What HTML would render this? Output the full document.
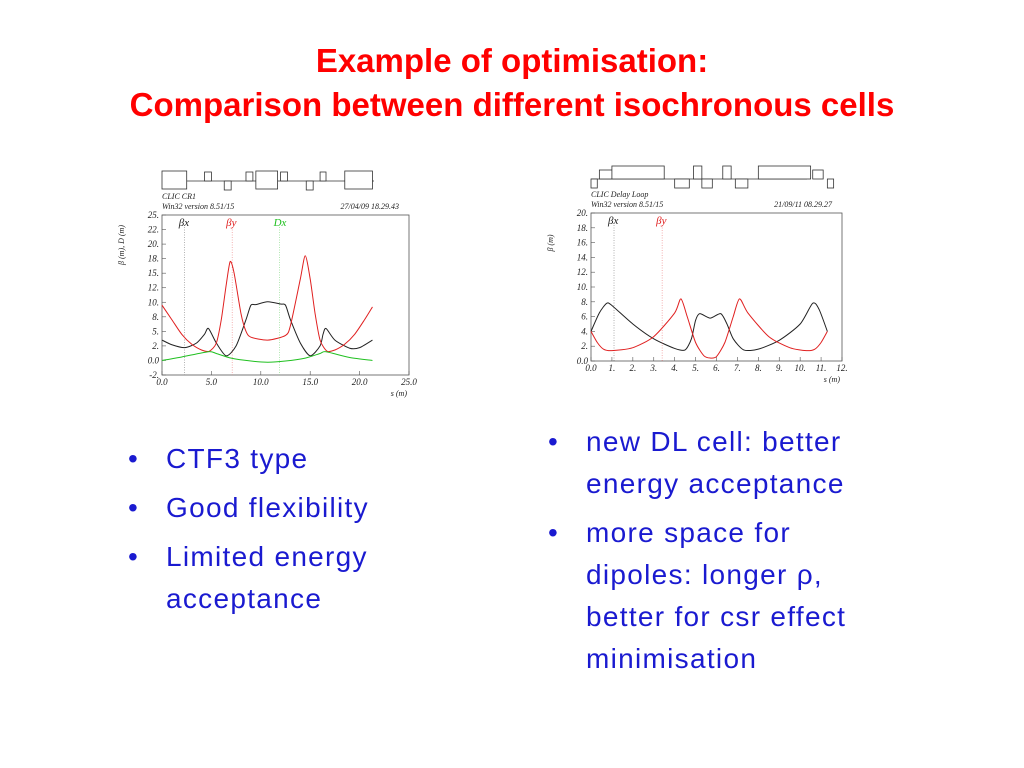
<!DOCTYPE html>
<html><head><meta charset="utf-8"><style>
body{margin:0;width:1024px;height:768px;background:#fff;overflow:hidden;position:relative;font-family:"Liberation Sans",sans-serif}
.t{position:absolute;left:0;width:1024px;text-align:center;color:#f00;font-weight:bold;font-size:33px}
.b{position:absolute;color:#1a1ad0;font-size:28px;letter-spacing:1.3px;line-height:42px}
.b span{position:absolute;left:-38px}
svg{position:absolute;left:0;top:0}
</style></head><body>
<div class="t" style="top:42px">Example of optimisation:</div>
<div class="t" style="top:86px">Comparison between different isochronous cells</div>

<div class="b" style="left:166px;top:438px">
<div style="position:relative"><span>•</span>CTF3 type</div>
<div style="position:relative;margin-top:7px"><span>•</span>Good flexibility</div>
<div style="position:relative;margin-top:7px"><span>•</span>Limited energy<br>acceptance</div>
</div>
<div class="b" style="left:586px;top:421px">
<div style="position:relative"><span>•</span>new DL cell: better<br>energy acceptance</div>
<div style="position:relative;margin-top:7px"><span>•</span>more space for<br>dipoles: longer ρ,<br>better for csr effect<br>minimisation</div>
</div>

<svg width="1024" height="768" font-family="Liberation Serif, serif" font-style="italic">
<g id="c1"></g>
<g id="c2"></g>
</svg>
<script>
// Chart 1 data (CLIC CR1)
const c1Ticks=[25,22.5,20,17.5,15,12.5,10,7.5,5,2.5,0,-2.5];
const c1TickLabels=["25.","22.","20.","18.","15.","12.","10.","8.","5.","2.","0.0","-2."];
const c1XTicks=[0,5,10,15,20,25];
const c1XLabels=["0.0","5.0","10.0","15.0","20.0","25.0"];
const c1BxS=[0,1,2.3,3.5,4.3,4.7,5.5,6.5,7.5,8.5,9,9.5,10.7,12,12.5,13,14,15,16,16.3,16.6,17.5,19,20,21.3];
const c1BxV=[3.5,2.7,2.2,3,4.5,5.5,3,0.8,2.5,7,9.5,9.6,10.1,9.7,9.5,7,3,0.8,2.5,4.5,5.5,3.5,2.1,2.2,3.5];
const c1ByS=[0,1,2,3,4,4.8,5.5,6,6.5,6.9,7.3,8,8.5,9,10.7,12.5,13,14,14.5,15,15.5,16,16.7,17.5,18.5,19.5,20.5,21.3];
const c1ByV=[9.5,7,4.5,2.8,1.8,1.6,3,7,13,17,15,8,5,4,3.5,4.3,6,14,18,14,8,3.5,1.6,1.8,2.8,4.5,7,9.2];
const c1DS=[0,2,4.7,5.5,7,9,10.7,12.5,14.5,16,16.6,19,21.3];
const c1DV=[0,0.6,1.5,1.2,0.4,-0.1,-0.3,-0.1,0.4,1.2,1.5,0.5,0];
// Chart 2 data (CLIC Delay Loop)
const c2Ticks=[0,2,4,6,8,10,12,14,16,18,20];
const c2TickLabels=["0.0","2.","4.","6.","8.","10.","12.","14.","16.","18.","20."];
const c2XTicks=[0,1,2,3,4,5,6,7,8,9,10,11,12];
const c2XLabels=["0.0","1.","2.","3.","4.","5.","6.","7.","8.","9.","10.","11.","12."];
const c2BxS=[0,0.4,0.75,1,2,3,4,4.5,4.8,5,5.2,5.7,6.2,6.5,6.8,7.3,8,9,10,10.6,10.9,11.3];
const c2BxV=[4,6.5,7.8,7.5,5,3,1.7,1.5,3,5.5,6.4,5.8,6.4,5,3,1.5,1.6,2.8,5,7.8,7,4];
const c2ByS=[0,0.3,0.6,1,2,3,4,4.3,4.6,5,5.4,5.7,6,6.4,6.8,7.1,7.5,8.5,9.5,10.3,10.7,11,11.3];
const c2ByV=[4,2.5,1.6,1.4,1.8,3.3,6.5,8.4,6,2.5,0.7,0.4,0.6,2.5,6,8.4,6.5,3.3,1.8,1.4,1.6,2.5,4];

const NS="http://www.w3.org/2000/svg";
function mk(p,tag,at,txt){const e=document.createElementNS(NS,tag);for(const k in at)e.setAttribute(k,at[k]);if(txt!==undefined)e.textContent=txt;p.appendChild(e);return e;}
function path(xs,ys,X,Y){const P=xs.map((s,i)=>[X(s),Y(ys[i])]);let d="M"+P[0][0]+","+P[0][1];
for(let i=0;i<P.length-1;i++){const p0=P[i-1]||P[i],p1=P[i],p2=P[i+1],p3=P[i+2]||P[i+1];
d+=` C${p1[0]+(p2[0]-p0[0])/8},${p1[1]+(p2[1]-p0[1])/8} ${p2[0]-(p3[0]-p1[0])/8},${p2[1]-(p3[1]-p1[1])/8} ${p2[0]},${p2[1]}`;}return d;}

function chart(g,o){
 const X=s=>o.x0+(s-o.xmin)/(o.xmax-o.xmin)*(o.x1-o.x0);
 const Y=v=>o.y1-(v-o.ymin)/(o.ymax-o.ymin)*(o.y1-o.y0);
 const fr=mk(g,'rect',{x:o.x0,y:o.y0,width:o.x1-o.x0,height:o.y1-o.y0,fill:'none',stroke:'#555','stroke-width':0.8});
 
 o.yt.forEach((v,i)=>{mk(g,'line',{x1:o.x0,x2:o.x0+4,y1:Y(v),y2:Y(v),stroke:'#555','stroke-width':0.6});
  const t=mk(g,'text',{x:o.x0-3,y:Y(v)+3,'font-size':9,'text-anchor':'end',fill:'#222'},o.yl[i]);
  });
 o.xt.forEach((v,i)=>{mk(g,'line',{x1:X(v),x2:X(v),y1:o.y1,y2:o.y1-4,stroke:'#555','stroke-width':0.6});
  const t=mk(g,'text',{x:X(v),y:o.y1+10,'font-size':9,'text-anchor':'middle',fill:'#222'},o.xl[i]);
  });
 const xt=mk(g,'text',{x:o.x1-2,y:o.y1+21,'font-size':8,'text-anchor':'end',fill:'#222'},'s (m)');
 
 const yt=mk(g,'text',{x:0,y:0,'font-size':8,'text-anchor':'middle',fill:'#222',transform:`translate(${o.x0-38},${o.y0+30}) rotate(-90)`},o.ytitle);
 
 mk(g,'text',{x:o.x0,y:o.y0-16,'font-size':8,fill:'#222'},o.name);
 mk(g,'text',{x:o.x0,y:o.y0-6,'font-size':8,fill:'#222'},'Win32 version 8.51/15');
 mk(g,'text',{x:o.x1-10,y:o.y0-6,'font-size':8,fill:'#222','text-anchor':'end'},o.date);
 o.series.forEach(s=>{
  const p=mk(g,'path',{d:path(s.xs,s.ys,X,Y),fill:'none',stroke:s.c,'stroke-width':1});
  
  mk(g,'line',{x1:X(s.lx),x2:X(s.lx),y1:o.y0+12,y2:o.y1,stroke:s.c,'stroke-width':0.5,'stroke-dasharray':'1,1.5',opacity:0.7});
  const l=mk(g,'text',{x:X(s.lx)-6,y:o.y0+11,'font-size':11,fill:s.c},s.lab);
  });
 const base=o.y0-34;
 mk(g,'line',{x1:o.x0,x2:o.x1-35,y1:base,y2:base,stroke:'#333','stroke-width':0.8});
 o.lat.forEach(r=>mk(g,'rect',{x:X(r[0]),y:base+r[2],width:X(r[1])-X(r[0]),height:r[3],fill:'#fff',stroke:'#333','stroke-width':0.8}));
}
chart(document.getElementById('c1'),{x0:162,x1:409,y0:215,y1:375,xmin:0,xmax:25,ymin:-2.5,ymax:25,
 yt:c1Ticks,yl:c1TickLabels,xt:c1XTicks,xl:c1XLabels,ytitle:'β (m), D (m)',name:'CLIC CR1',date:'27/04/09  18.29.43',
 series:[{xs:c1BxS,ys:c1BxV,c:'#222',n:'beta-x-line',lx:2.3,lab:'βx'},{xs:c1ByS,ys:c1ByV,c:'#e02020',n:'beta-y-line',lx:7.1,lab:'βy'},{xs:c1DS,ys:c1DV,c:'#20c020',n:'dispersion-line',lx:11.9,lab:'Dx'}],
 lat:[[0,2.5,-10,18],[4.3,5,-9,9],[8.5,9.2,-9,9],[9.5,11.7,-10,18],[12,12.7,-9,9],[16,16.6,-9,9],[18.5,21.3,-10,18],[6.3,7,0,9],[14.6,15.3,0,9]]});
chart(document.getElementById('c2'),{x0:591,x1:842,y0:213,y1:361,xmin:0,xmax:12,ymin:0,ymax:20,
 yt:c2Ticks,yl:c2TickLabels,xt:c2XTicks,xl:c2XLabels,ytitle:'β (m)',name:'CLIC Delay Loop',date:'21/09/11  08.29.27',
 series:[{xs:c2BxS,ys:c2BxV,c:'#222',n:'beta-x-line',lx:1.1,lab:'βx'},{xs:c2ByS,ys:c2ByV,c:'#e02020',n:'beta-y-line',lx:3.4,lab:'βy'}],
 lat:[[0,0.3,0,9],[0.4,1,-9,9],[1,3.5,-13,13],[4.9,5.3,-13,13],[6.3,6.7,-13,13],[8,10.5,-13,13],[10.6,11.1,-9,9],[11.3,11.6,0,9],[4,4.7,0,9],[5.3,5.8,0,9],[6.9,7.5,0,9]]});
</script>
</body></html>
